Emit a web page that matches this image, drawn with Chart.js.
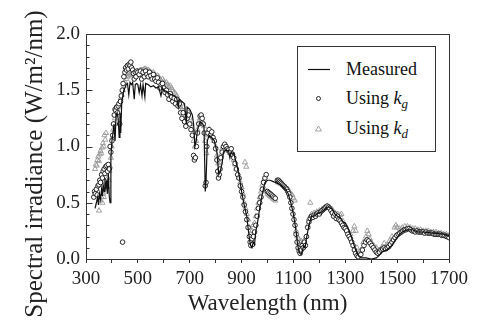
<!DOCTYPE html>
<html>
<head>
<meta charset="utf-8">
<script src="https://cdn.jsdelivr.net/npm/chart.js@4.4.0/dist/chart.umd.min.js"></script>
<style>
html,body{margin:0;padding:0;background:#fff;}
#wrap{position:relative;width:477px;height:325px;overflow:hidden;}
#c{position:absolute;left:0;top:0;}
#ytitle{position:absolute;left:-136px;top:150px;width:340px;height:28px;line-height:28px;text-align:center;
  font-family:"Liberation Serif","Liberation Sans",serif;font-size:25px;color:#222;transform:rotate(-90deg);transform-origin:50% 50%;white-space:nowrap;}
#legend{position:absolute;left:297px;top:46px;width:139px;height:106px;border:1px solid #333;box-sizing:border-box;background:#fff;
  font-family:"Liberation Serif","Liberation Sans",serif;font-size:18px;color:#111;}
#legend .tx{position:absolute;left:48px;height:20px;line-height:20px;white-space:nowrap;}
#legend svg{position:absolute;left:0;}
#legend sub{font-size:13px;vertical-align:-4px;line-height:0;}
</style>
</head>
<body>
<div id="wrap">
<canvas id="c" width="477" height="325"></canvas>
<div id="ytitle">Spectral irradiance (W/m²/nm)</div>
<div id="legend">
  <svg width="40" height="106" style="top:0">
    <line x1="10" y1="22.5" x2="32" y2="22.5" stroke="#111" stroke-width="1.2"/>
    <circle cx="20.5" cy="51.5" r="2" fill="#fff" stroke="#111" stroke-width="0.9"/>
    <polygon points="20.5,79 23.5,84 17.5,84" fill="none" stroke="#999" stroke-width="0.9"/>
  </svg>
  <span class="tx" style="top:12px">Measured</span>
  <span class="tx" style="top:41px">Using <i>k</i><sub><i>g</i></sub></span>
  <span class="tx" style="top:71px">Using <i>k</i><sub><i>d</i></sub></span>
</div>
</div>
<script>
// ---- Data ----
const wlMeas = [
 335,340,345,348,352,356,360,363,366,370,
 373,376,380,383,386,390,393,396,400,404,
 408,412,416,420,424,428,431,434,438,442,
 446,450,455,460,465,470,475,480,486,490,
 495,500,505,510,516,520,527,530,540,550,
 560,570,580,589,595,600,610,620,630,640,
 650,656,660,670,680,687,690,700,710,715,
 720,725,730,740,750,755,760,763,768,775,
 785,795,805,812,818,825,830,840,850,855,
 860,866,870,880,890,900,910,920,930,935,
 940,945,950,955,960,970,980,990,1000,1010,
 1020,1030,1040,1050,1060,1070,1080,1090,1100,1110,
 1115,1120,1125,1130,1135,1140,1145,1150,1160,1170,
 1180,1190,1200,1210,1220,1230,1240,1250,1260,1270,
 1280,1290,1300,1310,1320,1330,1340,1350,1360,1380,
 1400,1420,1430,1440,1450,1460,1470,1480,1490,1500,
 1510,1520,1530,1540,1550,1560,1570,1580,1600,1620,
 1640,1660,1680,1700];
const irrMeas = [
 0.45,0.50,0.55,0.48,0.58,0.53,0.62,0.56,0.66,0.60,
 0.72,0.62,0.70,0.58,0.76,0.55,0.50,0.90,1.05,1.12,
 1.20,1.05,1.28,1.30,1.25,1.08,1.30,1.12,1.40,1.45,
 1.50,1.52,1.55,1.56,1.46,1.57,1.55,1.57,1.42,1.55,
 1.56,1.55,1.48,1.55,1.45,1.55,1.44,1.56,1.55,1.53,
 1.54,1.52,1.53,1.45,1.52,1.50,1.49,1.47,1.46,1.45,
 1.43,1.35,1.42,1.40,1.38,1.20,1.35,1.33,1.28,1.20,
 1.00,1.05,1.15,1.22,1.20,1.18,0.60,0.70,1.05,1.10,
 1.08,1.05,0.95,0.75,0.78,0.85,0.95,0.97,0.96,0.90,
 0.95,0.93,0.94,0.85,0.75,0.60,0.48,0.38,0.18,0.12,
 0.10,0.15,0.13,0.25,0.30,0.45,0.58,0.68,0.70,0.70,
 0.69,0.68,0.67,0.66,0.64,0.62,0.58,0.50,0.40,0.25,
 0.15,0.08,0.05,0.04,0.08,0.12,0.10,0.18,0.30,0.38,
 0.38,0.40,0.41,0.42,0.44,0.46,0.46,0.44,0.40,0.38,
 0.37,0.33,0.32,0.28,0.22,0.15,0.08,0.03,0.01,0.01,
 0.00,0.01,0.03,0.06,0.07,0.08,0.10,0.12,0.16,0.19,
 0.22,0.24,0.25,0.26,0.26,0.26,0.25,0.24,0.24,0.235,
 0.23,0.225,0.22,0.20];

const wlKg = [
 330,333,336,340,343,346,350,353,356,360,
 363,366,370,373,376,380,383,386,390,393,
 396,400,403,406,409,412,415,418,421,424,
 427,430,433,436,440,441,443,446,450,453,
 456,460,463,466,470,473,476,480,483,486,
 490,493,496,500,505,510,515,520,525,530,
 535,540,545,550,555,560,565,570,575,580,
 585,590,595,600,605,610,615,620,625,630,
 635,640,645,650,655,660,665,670,675,680,
 685,690,695,700,705,710,715,718,722,726,
 730,735,740,744,748,752,756,760,763,766,
 770,775,780,785,790,795,800,805,808,811,
 814,817,820,825,830,835,840,845,850,855,
 860,865,870,875,880,885,890,895,900,905,
 910,915,920,925,930,933,936,940,943,946,
 950,955,960,965,970,975,980,985,990,995,
 1000,1005,1010,1015,1020,1025,1030,1038,1042,1046,
 1050,1054,1058,1062,1066,1070,1074,1078,1082,1086,
 1090,1094,1098,1102,1106,1110,1114,1118,1122,1126,
 1130,1134,1138,1142,1146,1150,1155,1160,1165,1170,
 1175,1180,1185,1190,1195,1200,1205,1210,1215,1220,
 1225,1230,1235,1240,1245,1250,1255,1260,1265,1270,
 1275,1280,1285,1290,1295,1300,1305,1310,1315,1320,
 1325,1330,1335,1340,1345,1350,1360,1366,1372,1378,
 1384,1390,1396,1402,1408,1414,1420,1426,1432,1438,
 1444,1450,1456,1462,1468,1474,1480,1486,1492,1498,
 1504,1510,1516,1522,1528,1534,1540,1546,1552,1558,
 1564,1570,1576,1582,1588,1594,1600,1606,1612,1618,
 1624,1630,1636,1642,1648,1654,1660,1666,1672,1678,
 1684,1690,1696,1700];
const irrKg = [
 0.55,0.60,0.58,0.62,0.57,0.65,0.66,0.70,0.68,0.75,
 0.72,0.78,0.80,0.76,0.82,0.83,0.78,0.84,0.80,1.00,
 0.95,1.05,1.10,1.20,1.28,1.33,1.32,1.35,1.30,1.36,
 1.38,1.20,1.40,1.45,1.50,0.15,1.56,1.62,1.66,1.70,
 1.68,1.72,1.69,1.73,1.72,1.75,1.70,1.68,1.65,1.60,
 1.66,1.62,1.67,1.66,1.64,1.67,1.60,1.66,1.62,1.67,
 1.64,1.62,1.66,1.63,1.60,1.64,1.60,1.58,1.61,1.57,
 1.52,1.55,1.56,1.52,1.48,1.50,1.46,1.42,1.47,1.44,
 1.40,1.43,1.38,1.42,1.36,1.38,1.30,1.25,1.30,1.22,
 1.18,1.25,1.28,1.20,1.15,1.10,0.92,0.88,0.90,1.00,
 1.12,1.20,1.27,1.28,1.25,1.20,1.12,0.65,0.68,1.00,
 1.12,1.15,1.10,1.13,1.08,1.05,0.98,0.88,0.78,0.72,
 0.75,0.80,0.90,0.95,1.00,1.02,1.00,0.98,0.97,0.95,
 0.98,0.93,0.90,0.85,0.80,0.75,0.72,0.65,0.60,0.55,
 0.48,0.42,0.35,0.28,0.20,0.15,0.12,0.18,0.13,0.20,
 0.24,0.30,0.38,0.45,0.50,0.55,0.62,0.68,0.72,0.75,
 0.60,0.59,0.58,0.57,0.56,0.55,0.54,0.70,0.70,0.69,
 0.68,0.67,0.66,0.65,0.64,0.63,0.62,0.60,0.58,0.55,
 0.50,0.45,0.40,0.35,0.30,0.22,0.15,0.10,0.07,0.05,
 0.08,0.12,0.10,0.15,0.12,0.20,0.28,0.33,0.36,0.38,
 0.37,0.39,0.38,0.40,0.41,0.40,0.42,0.43,0.44,0.45,
 0.46,0.47,0.46,0.45,0.43,0.41,0.38,0.40,0.36,0.38,
 0.35,0.34,0.32,0.30,0.28,0.27,0.25,0.22,0.20,0.18,
 0.15,0.12,0.08,0.05,0.03,0.02,0.04,0.08,0.12,0.15,
 0.17,0.16,0.14,0.12,0.10,0.08,0.06,0.05,0.06,0.08,
 0.09,0.10,0.09,0.10,0.11,0.13,0.15,0.17,0.19,0.21,
 0.22,0.23,0.24,0.25,0.26,0.26,0.27,0.27,0.26,0.25,
 0.25,0.24,0.25,0.24,0.24,0.24,0.24,0.23,0.24,0.23,
 0.23,0.23,0.23,0.22,0.22,0.22,0.22,0.22,0.21,0.21,
 0.21,0.20,0.20,0.19];

const wlKd = [
 335,338,341,344,347,350,353,356,359,362,
 365,368,371,374,377,350,355,360,363,366,
 369,372,375,378,381,384,387,390,393,396,
 399,402,405,408,411,414,417,420,423,426,
 430,434,438,442,446,450,455,460,465,470,
 475,480,485,490,495,500,505,510,515,520,
 525,530,535,540,545,550,555,560,565,570,
 575,580,585,590,595,600,605,610,615,620,
 625,630,635,640,645,650,655,660,665,670,
 675,680,685,690,695,700,705,710,715,720,
 725,730,735,740,745,750,755,760,765,770,
 775,780,785,790,795,800,805,810,815,820,
 825,830,835,840,845,850,855,860,865,870,
 875,880,885,890,895,900,905,910,913,915,
 918,920,925,930,935,940,945,950,955,960,
 965,970,975,980,985,990,995,1000,1005,1010,
 1015,1020,1025,1030,1040,1050,1060,1070,1080,1090,
 1095,1100,1105,1110,1115,1120,1125,1130,1135,1140,
 1145,1150,1155,1160,1165,1170,1180,1190,1200,1210,
 1220,1230,1240,1250,1260,1270,1280,1285,1290,1295,
 1300,1305,1310,1320,1330,1335,1340,1345,1350,1360,
 1370,1380,1385,1390,1395,1400,1410,1420,1430,1440,
 1450,1460,1470,1480,1490,1495,1500,1510,1520,1530,
 1540,1550,1560,1570,1580,1590,1600,1610,1620,1630,
 1640,1650,1660,1670,1680,1690,1700];
const irrKd = [
 0.80,0.84,0.83,0.88,0.91,0.87,0.93,0.96,0.94,0.99,
 1.03,1.00,1.10,1.06,1.12,0.43,0.52,0.55,0.50,0.58,
 0.55,0.62,0.60,0.66,0.64,0.72,0.70,0.78,0.82,0.90,
 1.00,1.08,1.15,1.20,1.25,1.28,1.30,1.33,1.35,1.37,
 1.40,1.43,1.46,1.50,1.54,1.57,1.60,1.62,1.63,1.64,
 1.64,1.65,1.64,1.66,1.66,1.67,1.67,1.68,1.68,1.68,
 1.69,1.69,1.68,1.68,1.67,1.66,1.65,1.66,1.64,1.62,
 1.63,1.62,1.60,1.58,1.60,1.58,1.56,1.57,1.55,1.53,
 1.54,1.52,1.50,1.48,1.47,1.45,1.42,1.40,1.35,1.32,
 1.35,1.30,1.25,1.28,1.30,1.25,1.20,1.15,1.05,1.00,
 1.05,1.15,1.22,1.25,1.27,1.22,1.18,1.05,0.94,1.10,
 1.15,1.12,1.10,1.08,1.05,1.00,0.92,0.85,0.86,0.92,
 0.98,1.00,1.00,0.98,0.97,0.96,0.94,0.96,0.92,0.88,
 0.84,0.80,0.76,0.72,0.68,0.64,0.58,0.50,0.86,0.45,
 0.82,0.40,0.35,0.28,0.22,0.25,0.30,0.32,0.38,0.45,
 0.50,0.55,0.60,0.66,0.70,0.62,0.60,0.58,0.57,0.56,
 0.55,0.54,0.53,0.52,0.68,0.67,0.66,0.64,0.62,0.58,
 0.57,0.54,0.52,0.25,0.20,0.18,0.15,0.16,0.14,0.16,
 0.14,0.20,0.30,0.36,0.50,0.40,0.41,0.42,0.43,0.44,
 0.46,0.47,0.46,0.44,0.41,0.40,0.39,0.40,0.34,0.29,
 0.30,0.27,0.25,0.22,0.25,0.29,0.25,0.10,0.05,0.08,
 0.15,0.20,0.25,0.22,0.18,0.15,0.12,0.10,0.08,0.10,
 0.14,0.12,0.16,0.20,0.28,0.30,0.28,0.27,0.28,0.29,
 0.29,0.28,0.27,0.27,0.26,0.26,0.25,0.25,0.25,0.24,
 0.24,0.24,0.23,0.23,0.22,0.22,0.21];

// ---- Ticks ----
const xTickValues = [300,400,500,600,700,800,900,1000,1100,1200,1300,1400,1500,1600,1700];
const xLabelValues = [300,500,700,900,1100,1300,1500,1700];
const xLabelTexts = ['300','500','700','900','1100','1300','1500','1700'];
const yTickValues = [0,0.1,0.2,0.3,0.4,0.5,0.6,0.7,0.8,0.9,1.0,1.1,1.2,1.3,1.4,1.5,1.6,1.7,1.8,1.9,2.0];
const yLabelValues = [0,0.5,1.0,1.5,2.0];
const yLabelTexts = ['0.0','0.5','1.0','1.5','2.0'];

const serif = '"Liberation Serif", "Liberation Sans", serif';
const toPts = (xs, ys) => xs.map((x, i) => ({x: x, y: ys[i]}));

const framePlugin = {
  id: 'frame',
  afterDatasetsDraw(chart) {
    const {ctx, chartArea: a, scales: {y}} = chart;
    ctx.save();
    ctx.strokeStyle = '#333';
    ctx.lineWidth = 1;
    const L = Math.round(a.left) + 0.5, T = Math.round(a.top) + 0.5;
    const R = Math.round(a.right) + 0.5, B = Math.round(a.bottom) + 0.5;
    ctx.strokeRect(L, T, R - L, B - T);
    yTickValues.forEach(v => {
      const py = Math.round(y.getPixelForValue(v)) + 0.5;
      const len = yLabelValues.includes(v) ? 6 : 3;
      ctx.beginPath(); ctx.moveTo(L, py); ctx.lineTo(L + len, py); ctx.stroke();
    });
    ctx.restore();
  }
};

new Chart(document.getElementById('c'), {
  type: 'scatter',
  data: {
    datasets: [
      { label: 'Measured', data: toPts(wlMeas, irrMeas), showLine: true,
        borderColor: '#111', borderWidth: 1.2, pointRadius: 0, fill: false, tension: 0 },
      { label: 'Using kg', data: toPts(wlKg, irrKg), showLine: false,
        pointStyle: 'circle', pointRadius: 2.3, borderColor: '#111', borderWidth: 0.9,
        backgroundColor: '#fff' },
      { label: 'Using kd', data: toPts(wlKd, irrKd), showLine: false,
        pointStyle: 'triangle', pointRadius: 3, borderColor: '#999', borderWidth: 0.9,
        backgroundColor: 'rgba(255,255,255,0)' }
    ]
  },
  options: {
    responsive: false,
    animation: false,
    devicePixelRatio: 1,
    layout: { padding: { top: 34, right: 28, left: 0, bottom: 0 } },
    plugins: { legend: { display: false }, tooltip: { enabled: false } },
    scales: {
      x: {
        type: 'linear', min: 300, max: 1700,
        afterBuildTicks: s => { s.ticks = xTickValues.map(v => ({value: v})); },
        afterFit: s => { s.height = 66; },
        ticks: {
          autoSkip: false, maxRotation: 0, padding: 5, color: '#222',
          font: { family: serif, size: 19 },
          callback: v => { const i = xLabelValues.indexOf(v); return i >= 0 ? xLabelTexts[i] : ''; }
        },
        grid: { display: true, drawOnChartArea: false, drawTicks: true, tickLength: 4, color: '#333' },
        border: { display: false },
        title: { display: true, text: 'Wavelength (nm)', color: '#222',
                 font: { family: serif, size: 23 }, padding: { top: 0, bottom: 7 } }
      },
      y: {
        type: 'linear', min: 0, max: 2,
        afterBuildTicks: s => { s.ticks = yTickValues.map(v => ({value: v})); },
        afterFit: s => { s.width = 86; },
        ticks: {
          autoSkip: false, padding: 6, color: '#222',
          font: { family: serif, size: 19 },
          callback: v => { const i = yLabelValues.indexOf(v); return i >= 0 ? yLabelTexts[i] : ''; }
        },
        grid: { display: false, drawTicks: false },
        border: { display: false },
        title: { display: false }
      }
    }
  },
  plugins: [framePlugin]
});
</script>
</body>
</html>
